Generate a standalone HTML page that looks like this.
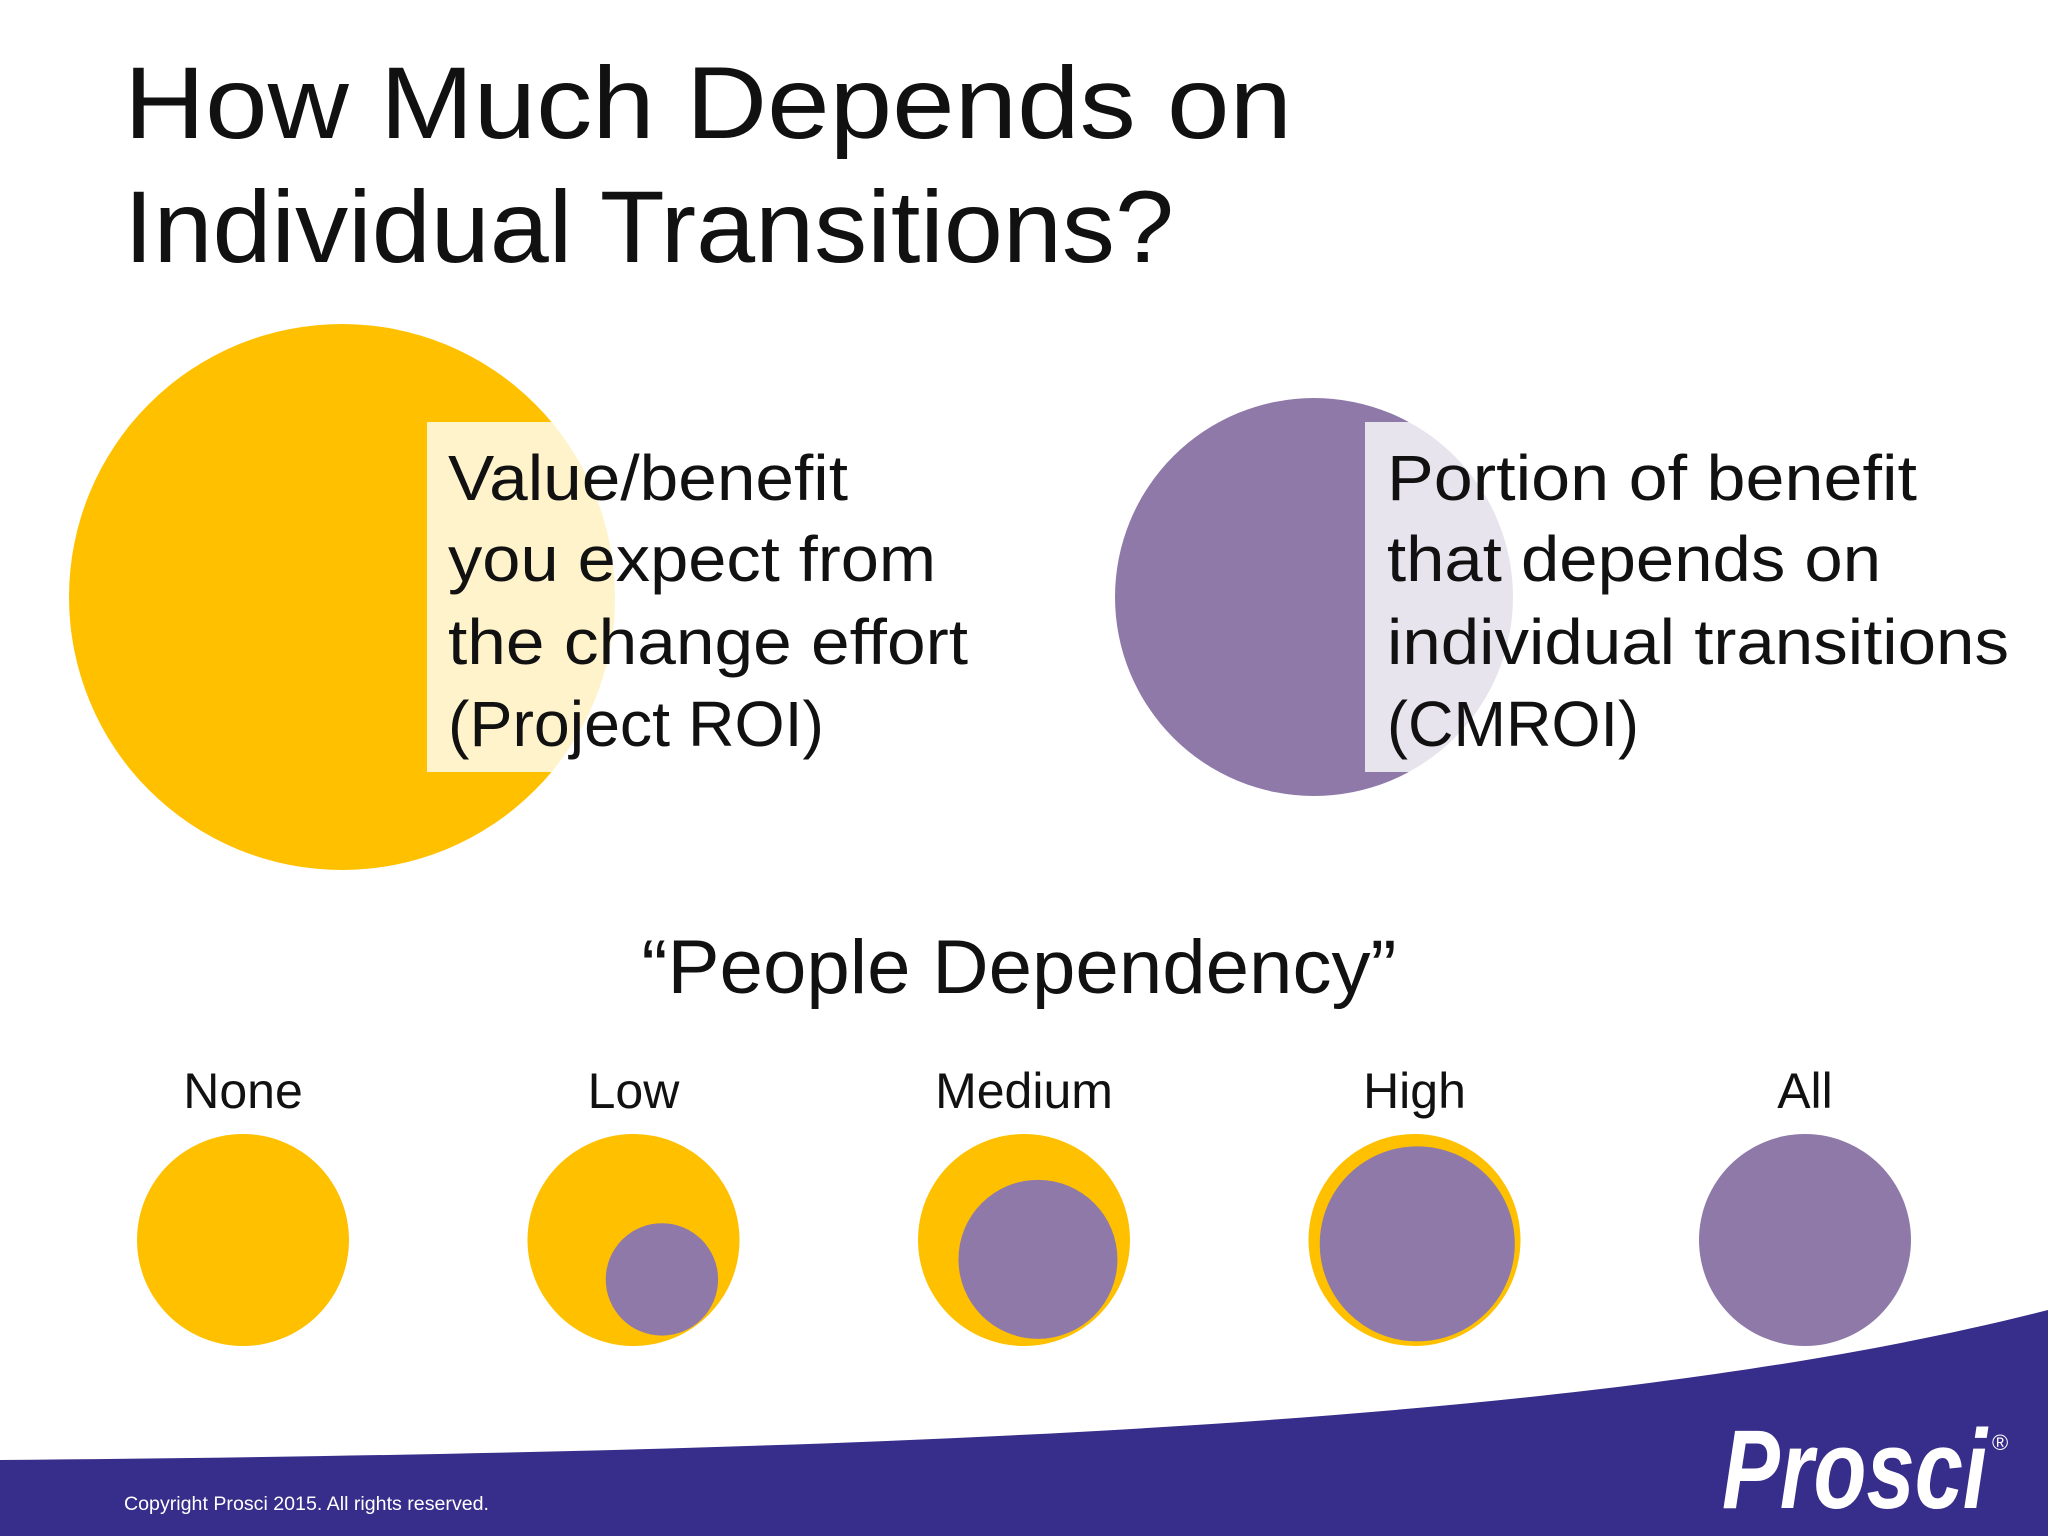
<!DOCTYPE html>
<html><head><meta charset="utf-8"><style>
html,body{margin:0;padding:0;background:#fff;}
svg{display:block;}
text{font-family:"Liberation Sans",sans-serif;}
</style></head><body>
<svg width="2048" height="1536" viewBox="0 0 2048 1536">
<rect width="2048" height="1536" fill="#ffffff"/>
<g font-size="102" fill="#111">
<text x="124" y="138" textLength="1168" lengthAdjust="spacingAndGlyphs">How Much Depends on</text>
<text x="124" y="262" textLength="1050" lengthAdjust="spacingAndGlyphs">Individual Transitions?</text>
</g>
<g>
<circle cx="342" cy="597" r="273" fill="#FFC000"/>
<rect x="427" y="422" width="560" height="350" fill="#ffffff" fill-opacity="0.8"/>
<g font-size="64" fill="#111">
<text x="448" y="500" textLength="400" lengthAdjust="spacingAndGlyphs">Value/benefit</text>
<text x="448" y="581" textLength="488" lengthAdjust="spacingAndGlyphs">you expect from</text>
<text x="448" y="664" textLength="520" lengthAdjust="spacingAndGlyphs">the change effort</text>
<text x="448" y="746" textLength="376" lengthAdjust="spacingAndGlyphs">(Project ROI)</text>
</g>
</g>
<g>
<circle cx="1314" cy="597" r="199" fill="#8E79A8"/>
<rect x="1365" y="422" width="683" height="350" fill="#ffffff" fill-opacity="0.8"/>
<g font-size="64" fill="#111">
<text x="1387" y="500" textLength="530" lengthAdjust="spacingAndGlyphs">Portion of benefit</text>
<text x="1387" y="581" textLength="494" lengthAdjust="spacingAndGlyphs">that depends on</text>
<text x="1387" y="664" textLength="622" lengthAdjust="spacingAndGlyphs">individual transitions</text>
<text x="1387" y="746" textLength="252" lengthAdjust="spacingAndGlyphs">(CMROI)</text>
</g>
</g>
<text x="1019" y="993" font-size="76" fill="#111" text-anchor="middle" textLength="755" lengthAdjust="spacingAndGlyphs">“People Dependency”</text>
<g id="levels"></g>
<path d="M0 1460 C 900 1452, 1600 1425, 2048 1310 L2048 1536 L0 1536 Z" fill="#372D8A"/>
<text x="124" y="1510" font-size="19" fill="#ffffff" textLength="365" lengthAdjust="spacingAndGlyphs">Copyright Prosci 2015. All rights reserved.</text>
<text x="1722" y="1508" font-size="112" font-weight="bold" font-style="italic" fill="#ffffff" textLength="265" lengthAdjust="spacingAndGlyphs">Prosci</text>
<text x="1992" y="1450" font-size="22" fill="#ffffff">®</text>
</svg>
<script>
const levelNames = ["None","Low","Medium","High","All"];
const innerRatio = [0, 0.53, 0.75, 0.92, 1.0];
const NS = "http://www.w3.org/2000/svg";
const g = document.getElementById("levels");
const x0 = 243, dx = 390.5, cy = 1240, R = 106, labelY = 1108;
levelNames.forEach((name, i) => {
  const cx = x0 + i * dx;
  const t = document.createElementNS(NS, "text");
  t.setAttribute("x", cx); t.setAttribute("y", labelY);
  t.setAttribute("font-size", "50"); t.setAttribute("fill", "#111");
  t.setAttribute("text-anchor", "middle");
  
  
  t.textContent = name;
  g.appendChild(t);
  const o = document.createElementNS(NS, "circle");
  o.setAttribute("cx", cx); o.setAttribute("cy", cy); o.setAttribute("r", R);
  o.setAttribute("fill", innerRatio[i] >= 1 ? "#8E79A8" : "#FFC000");
  
  
  g.appendChild(o);
  const r = innerRatio[i] * R;
  if (r > 0 && innerRatio[i] < 1) {
    const off = R - r - 4;
    const c = document.createElementNS(NS, "circle");
    c.setAttribute("cx", cx + off * 0.62); c.setAttribute("cy", cy + off * 0.86);
    c.setAttribute("r", r); c.setAttribute("fill", "#8E79A8");
    
    
    g.appendChild(c);
  }
});
</script>
</body></html>
